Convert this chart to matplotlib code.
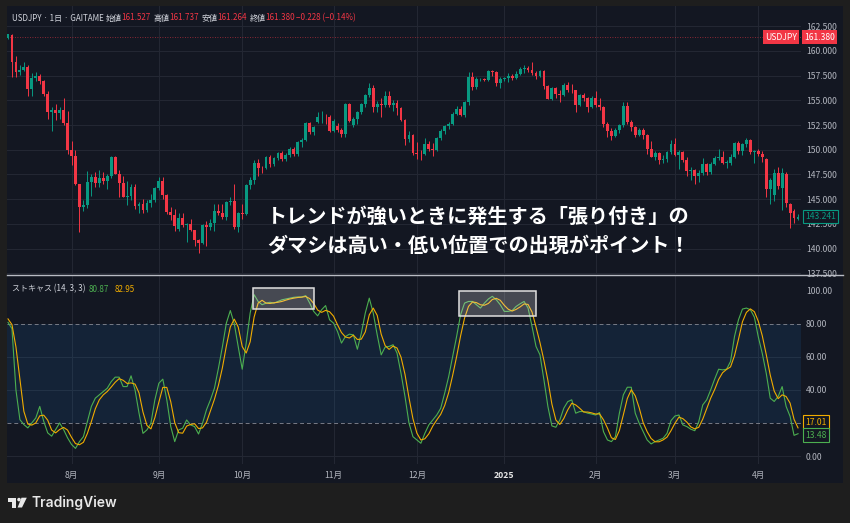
import numpy as np
import pandas as pd
import matplotlib

matplotlib.use("Agg")
from matplotlib import pyplot as plt
from matplotlib import patches, transforms
from matplotlib.lines import Line2D

plt.rcParams["font.family"] = ["Noto Sans CJK JP", "DejaVu Sans"]

# 日足 USDJPY (GAITAME) 2024-07-10 .. 2025-04-15
dates = pd.bdate_range("2024-07-10", "2025-04-15")

opens = [
    161.35, 161.65, 158.85, 157.85, 158.05, 158.35, 156.20, 157.30, 157.50, 157.00,
    155.60, 153.85, 154.00, 153.75, 154.00, 152.70, 150.00, 149.35, 146.50, 144.20,
    144.45, 146.75, 147.25, 146.60, 147.15, 146.85, 147.30, 149.25, 147.60, 146.65,
    145.25, 145.30, 146.25, 144.35, 144.55, 143.90, 144.60, 144.95, 146.15, 146.85,
    145.45, 143.70, 143.45, 142.00, 143.10, 142.40, 142.45, 141.85, 140.85, 140.60,
    142.35, 142.20, 142.60, 143.85, 143.60, 143.20, 144.75, 144.85, 142.20, 143.60,
    143.55, 146.45, 146.95, 148.65, 148.20, 148.15, 149.30, 148.55, 149.20, 149.70,
    149.05, 149.50, 150.10, 149.55, 150.80, 151.00, 152.70, 151.80, 152.80, 153.30,
    153.35, 153.30, 151.95, 152.45, 152.00, 151.60, 154.60, 152.55, 153.15, 153.80,
    154.60, 155.50, 156.25, 154.30, 154.60, 154.55, 155.40, 154.50, 154.75, 154.20,
    153.05, 151.10, 151.50, 149.70, 149.60, 149.55, 150.60, 150.05, 150.00, 151.15,
    151.95, 152.45, 152.65, 153.65, 154.15, 153.50, 154.85, 157.40, 156.40, 157.15,
    157.20, 157.10, 157.95, 157.90, 156.80, 157.20, 157.30, 157.45, 157.30, 157.70,
    158.15, 158.30, 158.05, 157.75, 157.50, 157.95, 156.45, 155.15, 156.30, 155.60,
    155.50, 156.55, 156.05, 156.00, 154.55, 155.50, 155.20, 154.30, 155.20, 154.50,
    154.30, 152.60, 151.90, 151.40, 152.00, 152.50, 154.40, 152.80, 152.30, 151.50,
    152.00, 151.50, 150.10, 149.30, 149.70, 149.00, 149.10, 149.80, 150.60, 149.50,
    149.80, 149.00, 147.90, 148.00, 147.30, 147.70, 148.60, 147.80, 148.60, 149.20,
    149.30, 148.70, 148.70, 149.30, 150.70, 149.90, 150.60, 151.00, 149.80, 149.90,
    149.60, 149.10, 146.00, 145.40, 147.70, 146.10, 147.60, 144.50, 143.80, 143.00,
]
highs = [
    161.75, 161.75, 159.45, 158.60, 158.85, 158.60, 157.75, 157.85, 157.70, 157.05,
    155.90, 154.30, 154.60, 154.30, 155.20, 153.90, 150.90, 149.95, 146.55, 144.90,
    147.90, 147.50, 147.80, 148.00, 147.80, 147.50, 149.40, 149.40, 148.00, 147.30,
    146.80, 146.50, 146.50, 144.70, 145.00, 144.90, 145.55, 146.25, 147.20, 147.20,
    145.50, 144.20, 144.00, 143.60, 143.65, 142.55, 143.00, 141.90, 141.00, 142.45,
    142.75, 143.00, 144.50, 144.50, 144.50, 144.80, 145.20, 146.50, 143.70, 144.50,
    146.50, 147.25, 149.00, 149.10, 148.40, 149.35, 149.50, 149.30, 149.80, 149.90,
    149.70, 150.30, 150.30, 150.90, 151.20, 152.85, 152.80, 152.40, 153.85, 153.90,
    153.60, 153.50, 153.10, 152.70, 152.25, 154.70, 154.70, 153.35, 153.90, 154.70,
    155.60, 156.75, 156.60, 154.90, 155.20, 155.90, 155.90, 155.00, 155.00, 154.30,
    153.10, 151.90, 151.55, 150.75, 150.00, 151.20, 150.90, 150.70, 151.30, 152.10,
    152.50, 152.85, 153.80, 154.45, 154.40, 154.90, 157.90, 157.90, 157.40, 157.30,
    157.30, 158.05, 158.10, 158.00, 157.40, 157.40, 157.80, 157.70, 158.00, 158.40,
    158.55, 158.45, 158.90, 158.00, 158.10, 158.05, 156.60, 156.40, 156.40, 156.00,
    156.75, 156.90, 156.70, 156.10, 155.60, 155.70, 155.30, 155.40, 155.90, 155.20,
    154.40, 152.80, 152.25, 152.20, 152.60, 154.80, 154.80, 153.00, 152.40, 152.20,
    152.20, 151.60, 150.90, 149.90, 149.80, 149.50, 149.90, 151.00, 151.20, 150.00,
    149.90, 149.30, 148.30, 148.10, 148.00, 149.20, 148.70, 148.80, 149.40, 150.10,
    149.90, 149.00, 149.60, 150.80, 150.90, 150.70, 151.20, 151.10, 150.00, 150.10,
    149.90, 149.20, 147.10, 148.10, 148.30, 148.20, 147.80, 144.60, 144.00, 143.50,
]
lows = [
    161.25, 157.40, 157.40, 157.60, 157.95, 155.40, 155.40, 157.00, 156.70, 155.40,
    153.10, 151.90, 153.00, 153.10, 152.55, 149.60, 148.50, 146.45, 141.70, 143.80,
    144.10, 145.30, 146.20, 146.20, 146.50, 146.00, 147.10, 147.55, 145.20, 145.20,
    144.45, 144.90, 144.00, 143.60, 143.60, 143.70, 144.20, 144.75, 145.90, 145.00,
    143.50, 142.90, 141.75, 141.80, 142.20, 140.70, 141.75, 140.30, 139.60, 140.45,
    140.30, 141.90, 141.75, 143.40, 143.00, 142.90, 144.40, 142.00, 141.65, 142.95,
    143.40, 146.00, 146.50, 147.30, 147.70, 148.10, 148.30, 148.35, 149.00, 148.90,
    148.90, 149.30, 149.40, 149.40, 150.30, 150.90, 151.60, 151.50, 152.70, 152.70,
    152.60, 151.80, 151.75, 151.80, 151.30, 151.30, 152.80, 152.30, 152.60, 153.60,
    154.30, 155.30, 153.80, 153.85, 153.30, 154.30, 154.30, 153.90, 153.50, 152.90,
    150.50, 150.80, 149.50, 149.10, 149.00, 149.50, 149.90, 149.40, 149.90, 151.00,
    151.60, 152.10, 152.50, 153.50, 153.40, 153.30, 154.50, 156.00, 156.20, 156.95,
    157.00, 157.00, 157.45, 156.50, 156.30, 157.00, 156.90, 157.10, 157.20, 157.60,
    157.80, 157.90, 157.60, 157.20, 157.40, 156.20, 155.10, 155.00, 155.20, 154.80,
    155.40, 155.80, 155.70, 153.80, 154.40, 154.90, 153.80, 154.20, 154.30, 154.00,
    152.30, 151.25, 150.95, 151.30, 151.70, 152.30, 152.60, 151.90, 151.30, 151.40,
    151.10, 149.60, 149.25, 149.00, 148.60, 148.70, 148.80, 149.60, 149.40, 148.10,
    148.80, 147.30, 146.90, 146.55, 146.70, 147.40, 147.40, 147.60, 148.50, 149.00,
    148.60, 148.20, 148.50, 149.20, 149.60, 149.50, 150.30, 149.60, 148.70, 149.40,
    148.80, 145.20, 144.55, 144.80, 146.00, 143.90, 144.20, 142.10, 142.60, 142.90,
]
closes = [
    161.68, 158.85, 157.85, 158.05, 158.35, 156.20, 157.30, 157.50, 157.00, 155.60,
    153.85, 154.00, 153.75, 154.00, 152.70, 150.00, 149.35, 146.50, 144.20, 144.45,
    146.75, 147.25, 146.60, 147.15, 146.85, 147.30, 149.25, 147.60, 146.65, 145.25,
    145.30, 146.25, 144.35, 144.55, 143.90, 144.60, 144.95, 146.15, 146.85, 145.45,
    143.70, 143.45, 142.30, 143.10, 142.40, 142.45, 141.85, 140.85, 140.60, 142.35,
    142.20, 142.60, 143.85, 143.60, 143.20, 144.75, 144.85, 142.20, 143.60, 143.55,
    146.45, 146.95, 148.65, 148.20, 148.15, 149.30, 148.55, 149.20, 149.70, 149.05,
    149.50, 150.10, 149.55, 150.80, 151.00, 152.70, 151.80, 152.30, 153.30, 153.35,
    153.30, 151.95, 152.95, 152.00, 151.60, 154.60, 152.95, 153.15, 153.80, 154.60,
    155.50, 156.25, 154.30, 154.60, 154.55, 155.40, 154.50, 154.75, 154.20, 153.05,
    151.10, 151.50, 149.70, 149.60, 149.55, 150.60, 150.05, 150.00, 151.15, 151.95,
    152.45, 152.65, 153.65, 154.15, 153.50, 154.85, 157.40, 156.40, 157.15, 157.20,
    157.10, 157.95, 157.90, 156.80, 157.20, 157.30, 157.45, 157.30, 157.70, 158.15,
    158.30, 158.05, 157.75, 157.50, 157.95, 156.45, 155.15, 156.30, 155.60, 155.50,
    156.55, 156.05, 156.00, 154.55, 155.50, 155.20, 154.30, 155.20, 154.50, 154.30,
    152.60, 151.90, 151.40, 152.00, 152.50, 154.40, 152.80, 152.30, 151.50, 152.00,
    151.50, 150.10, 149.30, 149.70, 149.00, 149.10, 149.80, 150.60, 149.50, 149.80,
    149.00, 147.90, 148.00, 147.30, 147.70, 148.60, 147.80, 148.60, 149.20, 149.30,
    148.70, 148.70, 149.30, 150.70, 149.90, 150.60, 151.00, 149.80, 149.90, 149.60,
    149.30, 146.00, 146.90, 147.70, 146.30, 147.70, 144.60, 143.60, 143.05, 143.24,
]

# ストキャス (14, 3, 3)
stoch_k = [
    80.87, 77.0, 40.0, 22.0, 19.0, 17.0, 20.0, 23.0, 30.0, 21.0,
    14.0, 12.0, 16.0, 20.0, 16.0, 11.0, 7.0, 4.6, 8.7, 11.7,
    20.8, 30.0, 35.0, 37.0, 39.0, 41.0, 45.0, 47.7, 47.7, 42.0,
    42.0, 48.5, 40.0, 26.0, 13.7, 15.8, 19.8, 34.0, 44.0, 46.5,
    34.0, 17.8, 8.7, 15.8, 16.8, 21.8, 18.8, 17.8, 13.3, 19.8,
    28.0, 34.0, 41.0, 53.0, 66.0, 80.4, 88.0, 80.0, 66.0, 52.5,
    68.3, 86.5, 97.6, 93.5, 91.5, 92.5, 93.0, 92.5, 93.5, 94.5,
    95.0, 95.5, 96.0, 96.2, 96.2, 97.0, 92.5, 87.5, 84.8, 88.5,
    91.0, 82.4, 80.4, 75.3, 68.3, 72.3, 73.7, 73.3, 64.6, 74.3,
    86.5, 95.5, 86.5, 73.3, 61.2, 65.9, 66.3, 67.3, 62.2, 50.0,
    36.0, 20.0, 11.7, 9.7, 7.7, 13.7, 18.8, 21.8, 24.8, 28.9,
    38.0, 48.0, 60.0, 72.3, 85.4, 92.5, 93.5, 93.5, 91.5, 89.5,
    92.5, 95.0, 96.6, 94.5, 91.5, 87.5, 87.5, 88.0, 90.5, 92.1,
    93.5, 89.5, 78.4, 66.3, 61.2, 46.0, 29.9, 18.2, 17.4, 21.8,
    28.9, 32.9, 34.0, 25.9, 26.9, 26.9, 25.9, 25.4, 24.8, 26.3,
    14.7, 9.7, 8.7, 11.7, 25.9, 37.0, 41.6, 41.6, 25.9, 19.8,
    14.7, 9.7, 7.3, 8.7, 9.7, 10.7, 13.7, 21.4, 24.2, 24.8,
    18.8, 17.8, 16.2, 15.3, 20.8, 30.9, 34.0, 40.0, 46.5, 52.5,
    52.1, 52.5, 57.2, 72.3, 82.4, 88.9, 89.5, 88.5, 84.0, 72.0,
    62.0, 50.0, 35.0, 33.0, 36.0, 42.0, 30.0, 24.0, 12.5, 13.48,
]
stoch_d = [
    82.95, 79.5, 66.0, 46.3, 27.0, 19.3, 18.7, 20.0, 24.3, 24.7,
    21.7, 15.7, 14.0, 16.0, 17.3, 15.7, 11.3, 7.5, 6.8, 8.3,
    13.7, 20.8, 28.6, 34.0, 37.0, 39.0, 41.7, 44.6, 46.8, 45.8,
    43.9, 44.2, 43.5, 38.2, 26.6, 18.5, 16.4, 23.2, 32.6, 41.5,
    41.5, 32.8, 20.2, 14.1, 13.8, 18.1, 19.1, 19.5, 16.6, 17.0,
    20.4, 27.3, 34.3, 42.7, 53.3, 66.5, 78.1, 82.8, 78.0, 66.2,
    62.3, 69.1, 84.1, 92.5, 94.2, 92.5, 92.3, 92.7, 93.0, 93.5,
    94.3, 95.0, 95.5, 95.9, 96.1, 96.5, 95.2, 92.3, 88.3, 86.9,
    88.1, 87.3, 84.6, 79.4, 74.7, 72.0, 71.4, 73.1, 70.5, 70.7,
    75.1, 85.4, 89.5, 85.1, 73.7, 66.8, 64.5, 66.5, 65.3, 59.8,
    49.4, 35.3, 22.6, 13.8, 9.7, 10.4, 13.4, 18.1, 21.8, 25.2,
    30.6, 38.3, 48.7, 60.1, 72.6, 83.4, 90.5, 93.2, 92.8, 91.5,
    91.2, 92.3, 94.7, 95.4, 94.2, 91.2, 88.8, 87.7, 88.7, 90.2,
    92.0, 91.7, 87.1, 78.1, 68.6, 57.8, 45.7, 31.4, 21.8, 19.1,
    22.7, 27.9, 31.9, 30.9, 28.9, 26.6, 26.6, 26.1, 25.4, 25.5,
    21.9, 16.9, 11.0, 10.0, 15.4, 24.9, 34.8, 40.1, 36.4, 29.1,
    20.1, 14.7, 10.6, 8.6, 8.6, 9.7, 11.4, 15.3, 19.8, 23.5,
    22.6, 20.5, 17.6, 16.4, 17.4, 22.3, 28.6, 35.0, 40.2, 46.3,
    50.4, 52.4, 53.9, 60.7, 70.6, 81.2, 86.9, 89.0, 87.3, 81.5,
    72.7, 61.3, 49.0, 39.3, 34.7, 37.0, 36.0, 32.0, 22.2, 17.01,
]

month_labels = ["8月", "9月", "10月", "11月", "12月", "2025", "2月", "3月", "4月"]
price_ticks = np.arange(137.5, 162.51, 2.5)
stoch_ticks = [0, 40, 60, 80, 100]

# 張り付き区間 (index range, value range)
sticky_zones = [((61.7, 77.1), (88.9, 101.6)), ((113.6, 133.0), (84.7, 99.8))]

header_ohlc = [("始値", "161.527"), ("高値", "161.737"), ("安値", "161.264"), ("終値", "161.380")]
marked_price = 161.380

BG = "#131722"
OUTER = "#1e1e1e"
GRID = "#232733"
TEXT = "#d1d4dc"
AXIS_TEXT = "#b2b5be"
UP = "#089981"
DOWN = "#f23645"
K_COLOR = "#4caf50"
D_COLOR = "#f0ac00"

W, H = 850, 523


def px_box(x0, y0, x1, y1):
    return [x0 / W, 1 - y1 / H, (x1 - x0) / W, (y1 - y0) / H]


def fx(x):
    return x / W


def fy(y):
    return 1 - y / H


fig = plt.figure(figsize=(W / 100, H / 100), dpi=100, facecolor=OUTER)

bg = fig.add_axes(px_box(7, 6, 843, 483), zorder=-5)
bg.set_facecolor(BG)
bg.set_xticks([])
bg.set_yticks([])
for s in bg.spines.values():
    s.set_visible(False)

ax_p = fig.add_axes(px_box(7, 6, 801, 274))
ax_s = fig.add_axes(px_box(7, 276, 801, 464))

x = np.arange(len(dates))
o = np.array(opens)
h = np.array(highs)
l = np.array(lows)
c = np.array(closes)
colors = np.where(c >= o, UP, DOWN)

month_pos = [i for i in range(1, len(dates)) if dates[i].month != dates[i - 1].month]

for ax in (ax_p, ax_s):
    ax.set_facecolor("none")
    for s in ax.spines.values():
        s.set_visible(False)
    ax.set_xlim(-0.25, 199.75)
    for m in month_pos:
        ax.axvline(m, color=GRID, lw=0.8, zorder=0)
    ax.yaxis.tick_right()
    ax.tick_params(axis="y", length=0, pad=3.6, labelsize=6.2, labelcolor=AXIS_TEXT)

# price pane
ax_p.set_ylim(137.43, 164.55)
for p in price_ticks:
    ax_p.axhline(p, color=GRID, lw=0.8, zorder=0)
ax_p.set_yticks(price_ticks)
ax_p.set_yticklabels([f"{p:.3f}" for p in price_ticks])
ax_p.set_xticks([])
ax_p.vlines(x, l, h, colors=colors, lw=0.7, zorder=2)
ax_p.bar(x, np.maximum(np.abs(c - o), 0.04), bottom=np.minimum(o, c), width=0.72,
         color=colors, lw=0, zorder=3)
ax_p.axhline(marked_price, color=DOWN, lw=0.6, ls=(0, (1, 2)), alpha=0.7, zorder=1)

# stochastic pane
ax_s.set_ylim(-4.84, 108.9)
for v in (0, 40, 60):
    ax_s.axhline(v, color=GRID, lw=0.8, zorder=0)
ax_s.axhspan(20, 80, color="#2196f3", alpha=0.1, lw=0, zorder=0)
for v in (20, 80):
    ax_s.axhline(v, color="#787b86", lw=0.7, ls=(0, (4, 3)), zorder=1)
ax_s.plot(x, stoch_k, color=K_COLOR, lw=0.8, zorder=3)
ax_s.plot(x, stoch_d, color=D_COLOR, lw=0.8, zorder=4)
ax_s.set_yticks(stoch_ticks)
ax_s.set_yticklabels([f"{v:.2f}" for v in stoch_ticks])
ax_s.set_xticks(month_pos)
ax_s.set_xticklabels(month_labels)
ax_s.tick_params(axis="x", length=0, pad=5, labelsize=6.2, labelcolor=AXIS_TEXT)
for lab in ax_s.get_xticklabels():
    if lab.get_text() == "2025":
        lab.set_color("#e6e6e6")
        lab.set_fontweight("bold")

for (i0, i1), (v0, v1) in sticky_zones:
    ax_s.add_patch(patches.Rectangle((i0, v0), i1 - i0, v1 - v0, facecolor=(1, 1, 1, 0.22),
                                     edgecolor="#e0e0e0", lw=1.1, zorder=5))

# pane separator
fig.add_artist(Line2D([fx(7), fx(843)], [fy(275), fy(275)], color="#b8bbc3", lw=1))

# header
fig.text(fx(12), fy(18), "USDJPY · 1日 · GAITAME", fontsize=5.8, color=TEXT, va="center")
hx = 106
for name, val in header_ohlc:
    fig.text(fx(hx), fy(18), name, fontsize=5.8, color=TEXT, va="center")
    fig.text(fx(hx + 15), fy(18), val, fontsize=5.8, color=DOWN, va="center")
    hx += 48
fig.text(fx(hx - 2), fy(18), "−0.228 (−0.14%)", fontsize=5.8, color=DOWN, va="center")

fig.text(fx(12), fy(289), "ストキャス (14, 3, 3)", fontsize=5.8, color=TEXT, va="center")
fig.text(fx(89), fy(289), f"{stoch_k[0]:.2f}", fontsize=5.8, color=K_COLOR, va="center")
fig.text(fx(115), fy(289), f"{stoch_d[0]:.2f}", fontsize=5.8, color=D_COLOR, va="center")

# right-side value labels
tp = transforms.blended_transform_factory(fig.transFigure, ax_p.transData)
ts = transforms.blended_transform_factory(fig.transFigure, ax_s.transData)
ax_p.text(fx(765), marked_price, "USDJPY", transform=tp, fontsize=6.2, color="white",
          va="center", clip_on=False, zorder=10,
          bbox=dict(boxstyle="square,pad=0.28", facecolor=DOWN, edgecolor="none"))
ax_p.text(fx(804), marked_price, f"{marked_price:.3f}", transform=tp, fontsize=6.2,
          color="white", va="center", clip_on=False, zorder=10,
          bbox=dict(boxstyle="square,pad=0.28", facecolor=DOWN, edgecolor="none"))
ax_p.text(fx(805), closes[-1], "143.241", transform=tp, fontsize=6.2, color=UP,
          va="center", clip_on=False, zorder=10,
          bbox=dict(boxstyle="square,pad=0.28", facecolor=BG, edgecolor=UP, lw=0.8))
ax_s.annotate(f"{stoch_d[-1]:.2f}", xy=(fx(805), stoch_d[-1]), xycoords=ts,
              xytext=(0, 4.2), textcoords="offset points", fontsize=6.2, color=D_COLOR,
              va="center", annotation_clip=False, zorder=10,
              bbox=dict(boxstyle="square,pad=0.28", facecolor=BG, edgecolor=D_COLOR, lw=0.8))
ax_s.annotate(f"{stoch_k[-1]:.2f}", xy=(fx(805), stoch_k[-1]), xycoords=ts,
              xytext=(0, -1.0), textcoords="offset points", fontsize=6.2, color=K_COLOR,
              va="center", annotation_clip=False, zorder=10,
              bbox=dict(boxstyle="square,pad=0.28", facecolor=BG, edgecolor=K_COLOR, lw=0.8))

# caption
fig.text(fx(267), fy(216), "トレンドが強いときに発生する「張り付き」の", fontsize=14.5,
         fontweight="bold", color="white", va="center")
fig.text(fx(267), fy(245), "ダマシは高い・低い位置での出現がポイント！", fontsize=14.5,
         fontweight="bold", color="white", va="center")

# TradingView logo
logo = "#e8e8e8"
fig.add_artist(patches.Rectangle((fx(7.5), fy(501.5)), 8.5 / W, 3.8 / H, color=logo, lw=0))
fig.add_artist(patches.Rectangle((fx(12.3), fy(507.5)), 3.7 / W, 9.8 / H, color=logo, lw=0))
fig.add_artist(patches.Ellipse((fx(19.0), fy(499.6)), 3.6 / W, 3.6 / H, color=logo, lw=0))
fig.add_artist(patches.Polygon([(fx(21.5), fy(497.7)), (fx(26.8), fy(497.7)),
                                (fx(22.0), fy(507.5)), (fx(17.6), fy(507.5))],
                               closed=True, color=logo, lw=0))
fig.text(fx(32), fy(502.5), "TradingView", fontsize=10, color=logo, va="center",
         family=["Inter", "DejaVu Sans"], fontweight="semibold")

fig.savefig("out.png", dpi=100, facecolor=OUTER)
